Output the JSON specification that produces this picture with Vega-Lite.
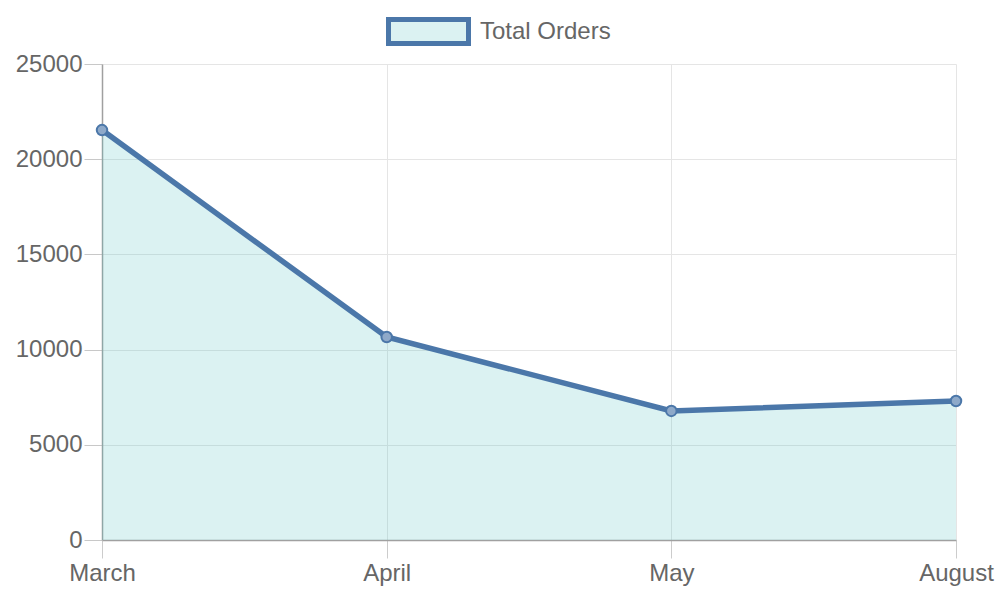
{
  "$schema": "https://vega.github.io/schema/vega-lite/v6.json",
  "width": 854,
  "height": 476,
  "autosize": {"type": "none"},
  "padding": {"left": 102, "top": 64, "right": 44, "bottom": 60},
  "background": "white",
  "data": {"values": [
    {"month": "March", "orders": 21530, "series": "Total Orders"},
    {"month": "April", "orders": 10660, "series": "Total Orders"},
    {"month": "May", "orders": 6780, "series": "Total Orders"},
    {"month": "August", "orders": 7300, "series": "Total Orders"}
  ]},
  "config": {
    "view": {"stroke": null},
    "axis": {
      "labelFont": "Liberation Sans",
      "labelFontSize": 24,
      "labelColor": "#666666",
      "gridColor": "#e5e5e5",
      "gridWidth": 1,
      "tickColor": "#c8c8c8",
      "domainColor": "#a0a0a0",
      "domainWidth": 1.5,
      "tickSize": 18,
      "title": null
    }
  },
  "encoding": {
    "x": {
      "field": "month",
      "type": "ordinal",
      "sort": ["March", "April", "May", "August"],
      "scale": {"type": "point", "padding": 0},
      "axis": {"labelAngle": 0, "labelPadding": 3, "grid": true, "tickColor": "#cccccc"}
    },
    "y": {
      "field": "orders",
      "type": "quantitative",
      "scale": {"domain": [0, 25000], "nice": false},
      "axis": {"values": [0, 5000, 10000, 15000, 20000, 25000], "labelPadding": 2, "grid": true, "format": "d"}
    }
  },
  "layer": [
    {
      "mark": {"type": "area", "fillOpacity": 1},
      "encoding": {
        "fill": {
          "field": "series",
          "type": "nominal",
          "scale": {"range": ["rgba(75,192,192,0.2)"]},
          "legend": {
            "title": null,
            "orient": "none",
            "legendX": 284,
            "legendY": -75,
            "symbolType": "M-1,-0.3H1V0.3H-1Z",
            "symbolSize": 6400,
            "symbolStrokeWidth": 5,
            "symbolStrokeColor": "#4b77a9",
            "symbolOpacity": 1,
            "labelFont": "Liberation Sans",
            "labelFontSize": 24,
            "labelColor": "#666666",
            "labelOffset": 9,
            "padding": 0
          }
        }
      }
    },
    {
      "mark": {"type": "line", "color": "#4b77a9", "strokeWidth": 5.5}
    },
    {
      "mark": {"type": "point", "filled": false, "fill": "#8ea9c9", "fillOpacity": 1, "stroke": "#4b77a9", "strokeWidth": 2, "size": 110, "opacity": 1}
    }
  ]
}
